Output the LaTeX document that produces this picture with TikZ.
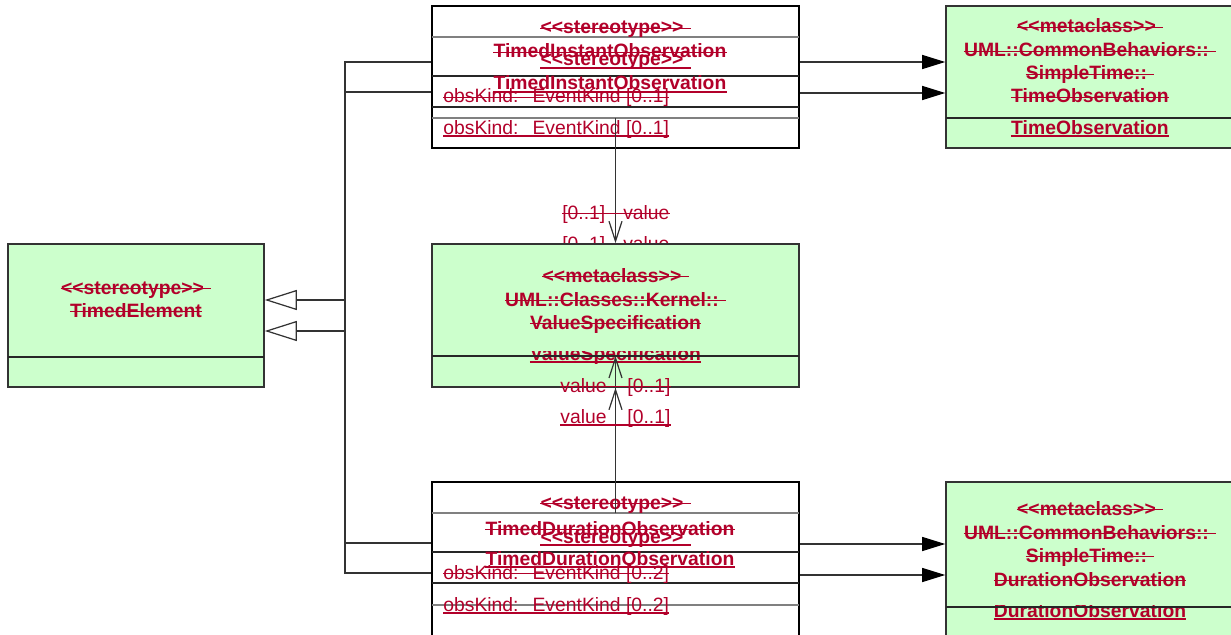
\documentclass[tikz,border=0pt]{standalone}
\usepackage{fontspec}
\setmainfont{Liberation Sans}
\usetikzlibrary{arrows.meta, positioning, fit}
\definecolor{StereoRed}{RGB}{178,0,42}
\definecolor{ClassGreen}{RGB}{204,255,204}

\begin{document}
\begin{tikzpicture}[x=0.02cm,y=-0.02cm,
        clsbox/.style={draw=black!80,line width=0.9pt,fill=ClassGreen,inner sep=0pt},
        obsbox/.style={draw=black,line width=1pt,fill=white,inner sep=0pt},
        sline/.style={draw=black!85,line width=0.8pt},
        gline/.style={draw=black!50,line width=0.8pt},
        nm/.style={text=StereoRed,font=\fontsize{11}{13}\selectfont\bfseries,
                   inner sep=0pt,anchor=base},
        attr/.style={text=StereoRed,font=\fontsize{11}{13}\selectfont,
                     inner sep=0pt,anchor=base west},
        strk/.style={append after command={([yshift=3pt]\tikzlastnode.base west)
                     edge[draw=StereoRed,line width=0.6pt] ([yshift=3pt]\tikzlastnode.base east)}},
        undl/.style={append after command={([yshift=-1.2pt]\tikzlastnode.base west)
                     edge[draw=StereoRed,line width=1pt] ([yshift=-1.2pt]\tikzlastnode.base east)}},
        con/.style={draw=black!80,line width=0.7pt},
        gen/.style={con,-{Triangle[open,fill=white,length=0.64cm,width=0.4cm]}},
        nav/.style={con,-{Triangle[length=0.46cm,width=0.28cm,color=black]}},
        val/.style={con,-{Straight Barb[length=0.4cm,width=0.26cm]}}
      ]
        \useasboundingbox (0,0) rectangle (1231,635);

        % TimedElement
        \node[clsbox,fit={(8,244) (264,387)}] (telem) {};
        \draw[sline] (8,357) -- (264,357);
        \node[nm,strk] (telemS1) at (136,294) {<{}<stereotype>{}>\kern4pt};
        \node[nm,strk] (telemS2) at (136,317) {TimedElement};

        % TimedInstantObservation
        \node[obsbox,fit={(432,6) (799,148)}] (tinst) {};
        \foreach \y/\s in {37/gline,76/sline,107/sline,118/gline}
          \draw[\s] (432,\y) -- (799,\y);
        \node[nm,strk] (tinstS1) at (615.5,34) {<{}<stereotype>{}>\kern4pt};
        \node[nm,strk] (tinstS2) at (610,58) {TimedInstantObservation};
        \node[nm,undl] (tinstU1) at (615.5,66) {<{}<stereotype>{}>\kern4pt};
        \node[nm,undl] (tinstU2) at (610,90) {TimedInstantObservation};
        \node[attr,strk] (tinstA1) at (443,103) {obsKind:\hspace{8pt}EventKind [0..1]};
        \node[attr,undl] (tinstA2) at (443,134) {obsKind:\hspace{8pt}EventKind [0..1]};

        % TimedDurationObservation
        \node[obsbox,fit={(432,482) (799,650)}] (tdur) {};
        \foreach \y/\s in {513/gline,552/sline,583/sline,605/gline}
          \draw[\s] (432,\y) -- (799,\y);
        \node[nm,strk] (tdurS1) at (615.5,509) {<{}<stereotype>{}>\kern4pt};
        \node[nm,strk] (tdurS2) at (610,535) {TimedDurationObservation};
        \node[nm,undl] (tdurU1) at (615.5,543) {<{}<stereotype>{}>\kern4pt};
        \node[nm,undl] (tdurU2) at (610,565) {TimedDurationObservation};
        \node[attr,strk] (tdurA1) at (443,579) {obsKind:\hspace{8pt}EventKind [0..2]};
        \node[attr,undl] (tdurA2) at (443,611) {obsKind:\hspace{8pt}EventKind [0..2]};

        % TimeObservation
        \node[clsbox,fit={(946,6) (1245,148)}] (tobs) {};
        \draw[sline] (946,118) -- (1231,118);
        \node[nm,strk] (tobsS1) at (1090,33) {<{}<metaclass>{}>\kern4pt};
        \node[nm,strk] (tobsS2) at (1090,57) {UML::CommonBehaviors::\kern4pt};
        \node[nm,strk] (tobsS3) at (1090,80) {SimpleTime::\kern4pt};
        \node[nm,strk] (tobsS4) at (1090,103) {TimeObservation};
        \node[nm,undl] (tobsU1) at (1090,134) {TimeObservation};

        % DurationObservation
        \node[clsbox,fit={(946,482) (1245,650)}] (dobs) {};
        \node[nm,undl] (dobsU1) at (1090,617) {DurationObservation};
        \fill[ClassGreen] (947,483) rectangle (1240,605);
        \draw[sline] (946,607) -- (1231,607);
        \node[nm,strk] (dobsS1) at (1090,515) {<{}<metaclass>{}>\kern4pt};
        \node[nm,strk] (dobsS2) at (1090,539) {UML::CommonBehaviors::\kern4pt};
        \node[nm,strk] (dobsS3) at (1090,562) {SimpleTime::\kern4pt};
        \node[nm,strk] (dobsS4) at (1090,586) {DurationObservation};

        % generalizations
        \coordinate (gjA) at (345,300);
        \coordinate (gjB) at (345,331);
        \draw[con] (tinst.west |- 0,62) -| (gjA);
        \draw[con] (tdur.west |- 0,543) -| (gjA);
        \draw[con] (tinst.west |- 0,92) -| (gjB);
        \draw[con] (tdur.west |- 0,573) -| (gjB);
        \draw[gen] (gjA) -- (telem.east |- gjA);
        \draw[gen] (gjB) -- (telem.east |- gjB);

        % extensions
        \draw[nav] (tinst.east |- 0,62) -- (tobs.west |- 0,62);
        \draw[nav] (tinst.east |- 0,93) -- (tobs.west |- 0,93);
        \draw[nav] (tdur.east |- 0,544) -- (dobs.west |- 0,544);
        \draw[nav] (tdur.east |- 0,575) -- (dobs.west |- 0,575);

        % value (top)
        \node[attr,undl] (mulT2) at (562,250) {[0..1]\hspace{10.2pt}value};

        % ValueSpecification
        \node[clsbox,fit={(432,244) (799,387)}] (vspec) {};
        \draw[val] (tinst.center |- 0,118) -- (vspec.north);
        \node[attr,strk] (mulT1) at (562,219) {[0..1]\hspace{10.2pt}value};
        \node[nm,undl] (vspecU1) at (615.5,360) {ValueSpecification};
        \fill[ClassGreen] (433,245) rectangle (798,351);
        \draw[sline] (432,356) -- (799,356);
        \node[nm,strk] (vspecS1) at (615.5,282) {<{}<metaclass>{}>\kern4pt};
        \node[nm,strk] (vspecS2) at (615.5,306) {UML::Classes::Kernel::\kern4pt};
        \node[nm,strk] (vspecS3) at (615.5,329) {ValueSpecification};

        % value (bottom)
        \draw[val] (tdur.north |- 0,513) -- (vspec.south);
        \draw[val] (tdur.north |- 0,513) -- (vspec.center |- 0,356);
        \node[attr,strk] (mulB1) at (560,392) {value\hspace{11.9pt}[0..1]};
        \node[attr,undl] (mulB2) at (560,423) {value\hspace{11.9pt}[0..1]};
      \end{tikzpicture}
\end{document}
